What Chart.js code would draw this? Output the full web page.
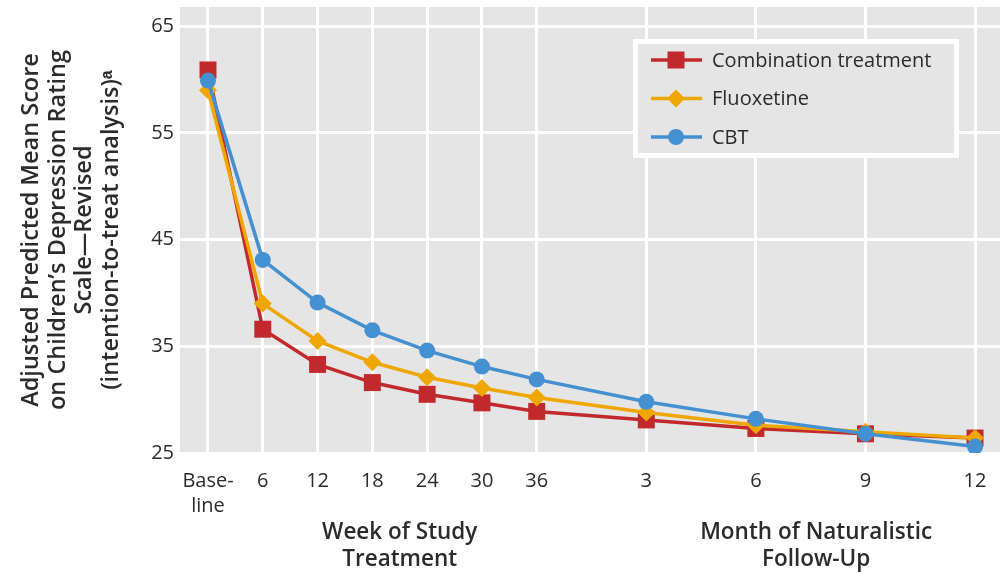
<!DOCTYPE html>
<html>
<head>
<meta charset="utf-8">
<script src="https://cdn.jsdelivr.net/npm/chart.js@4"></script>
<style>
  html, body { margin: 0; padding: 0; background: #fff; overflow: hidden; }
  #wrap { width: 1012px; height: 578px; margin-top: -5px; }
</style>
</head>
<body>
<div id="wrap"><canvas id="chart"></canvas></div>
<script>
// time points: 7 weekly visits in the treatment phase, 4 monthly follow-ups
const tickLabels = [["Base-", "line"], "6", "12", "18", "24", "30", "36", "3", "6", "9", "12"];
const tickPositions = [0, 1, 2, 3, 4, 5, 6, 8, 10, 12, 14];

const combination = [60.9, 36.6, 33.3, 31.6, 30.5, 29.7, 28.9, 28.1, 27.3, 26.8, 26.4];
const fluoxetine  = [59.0, 39.0, 35.5, 33.5, 32.1, 31.1, 30.2, 28.8, 27.6, 27.0, 26.4];
const cbt         = [59.9, 43.1, 39.1, 36.5, 34.6, 33.1, 31.9, 29.8, 28.2, 26.8, 25.6];

const yTicks = [25, 35, 45, 55, 65];

const groupTitles = [
  { lines: ["Week of Study", "Treatment"], from: 1, to: 6 },
  { lines: ["Month of Naturalistic", "Follow-Up"], from: 8, to: 14.2 },
];

const FONT = "'Open Sans', sans-serif";
const TEXT = "#2b2b2b";

const toPoints = (vals) => vals.map((v, i) => ({ x: tickPositions[i], y: v }));

const bgPlugin = {
  id: "plotBg",
  beforeDraw(chart) {
    const { ctx, chartArea: a } = chart;
    ctx.save();
    ctx.fillStyle = "#e5e5e5";
    ctx.fillRect(a.left, a.top, a.right - a.left, a.bottom - a.top);
    ctx.restore();
  },
};

const groupTitlePlugin = {
  id: "groupTitles",
  afterDraw(chart) {
    const { ctx, chartArea: a } = chart;
    const xs = chart.scales.x;
    ctx.save();
    ctx.fillStyle = TEXT;
    ctx.font = "600 22.5px " + FONT;
    ctx.textAlign = "center";
    ctx.textBaseline = "middle";
    groupTitles.forEach((g) => {
      const cx = (xs.getPixelForValue(g.from) + xs.getPixelForValue(g.to)) / 2;
      g.lines.forEach((t, i) => ctx.fillText(t, cx, a.bottom + 80 + i * 27));
    });
    ctx.restore();
  },
};

const boxLegend = {
  id: "boxLegend",
  afterDatasetsDraw(chart) {
    const { ctx, chartArea: a } = chart;
    const x0 = a.right - 367, y0 = a.top + 32, w = 326, h = 119;
    ctx.save();
    ctx.fillStyle = "#e5e5e5";
    ctx.fillRect(x0, y0, w, h);
    ctx.strokeStyle = "#ffffff";
    ctx.lineWidth = 5;
    ctx.strokeRect(x0 + 2.5, y0 + 2.5, w - 5, h - 5);
    ctx.font = "20px " + FONT;
    ctx.textBaseline = "middle";
    const order = [2, 1, 0];
    order.forEach((di, row) => {
      const ds = chart.data.datasets[di];
      const y = y0 + 21 + row * 38.5;
      ctx.strokeStyle = ds.borderColor;
      ctx.lineWidth = 3.5;
      ctx.beginPath();
      ctx.moveTo(x0 + 18, y);
      ctx.lineTo(x0 + 69, y);
      ctx.stroke();
      ctx.fillStyle = ds.backgroundColor;
      Chart.helpers.drawPoint(ctx, {
        pointStyle: ds.pointStyle,
        radius: ds.legendRadius,
        borderWidth: 0,
      }, x0 + 43, y);
      ctx.fillStyle = TEXT;
      ctx.fillText(ds.label, x0 + 79, y + 1);
    });
    ctx.restore();
  },
};

new Chart(document.getElementById("chart"), {
  type: "line",
  data: {
    datasets: [
      {
        label: "CBT",
        data: toPoints(cbt),
        borderColor: "#4590d0",
        backgroundColor: "#4590d0",
        pointStyle: "circle",
        pointRadius: 8,
        legendRadius: 8,
        order: 0,
      },
      {
        label: "Fluoxetine",
        data: toPoints(fluoxetine),
        borderColor: "#f0a800",
        backgroundColor: "#f0a800",
        pointStyle: "rectRot",
        pointRadius: 9,
        legendRadius: 9,
        order: 1,
      },
      {
        label: "Combination treatment",
        data: toPoints(combination),
        borderColor: "#c1292c",
        backgroundColor: "#c1292c",
        pointStyle: "rect",
        pointRadius: 12,
        legendRadius: 12,
        order: 2,
      },
    ],
  },
  options: {
    responsive: true,
    maintainAspectRatio: false,
    animation: false,
    layout: { padding: { top: 7, right: 7, left: 0, bottom: 0 } },
    elements: {
      line: { borderWidth: 3.5, tension: 0 },
      point: { borderWidth: 0, hoverRadius: 8 },
    },
    plugins: {
      legend: { display: false },
      tooltip: { enabled: false },
    },
    scales: {
      x: {
        type: "linear",
        min: -0.511,
        max: 14.456,
        afterBuildTicks: (s) => { s.ticks = tickPositions.map((v) => ({ value: v })); },
        afterFit: (s) => { s.height = 120; },
        border: { display: false },
        grid: { color: "#ffffff", lineWidth: 3, drawTicks: false },
        ticks: {
          autoSkip: false,
          maxRotation: 0,
          padding: 16,
          color: TEXT,
          font: { family: FONT, size: 20, lineHeight: 1.25 },
          callback: (v) => tickLabels[tickPositions.indexOf(v)],
        },
      },
      y: {
        min: 25,
        max: 66.8,
        afterBuildTicks: (s) => { s.ticks = yTicks.map((v) => ({ value: v })); },
        afterFit: (s) => { s.width = 180; s.paddingTop = 0; s.paddingBottom = 0; },
        border: { display: false },
        grid: { color: "#ffffff", lineWidth: 3, drawTicks: false },
        ticks: {
          padding: 6,
          color: TEXT,
          font: { family: FONT, size: 20 },
        },
        title: {
          display: true,
          text: [
            "Adjusted Predicted Mean Score",
            "on Children\u2019s Depression Rating",
            "Scale\u2014Revised",
            "(intention-to-treat analysis)\u1d43",
          ],
          color: TEXT,
          padding: { top: 18, bottom: 0 },
          font: { family: FONT, size: 23.5, weight: "600", lineHeight: 1.13 },
        },
      },
    },
  },
  plugins: [bgPlugin, boxLegend, groupTitlePlugin],
});
</script>
</body>
</html>
